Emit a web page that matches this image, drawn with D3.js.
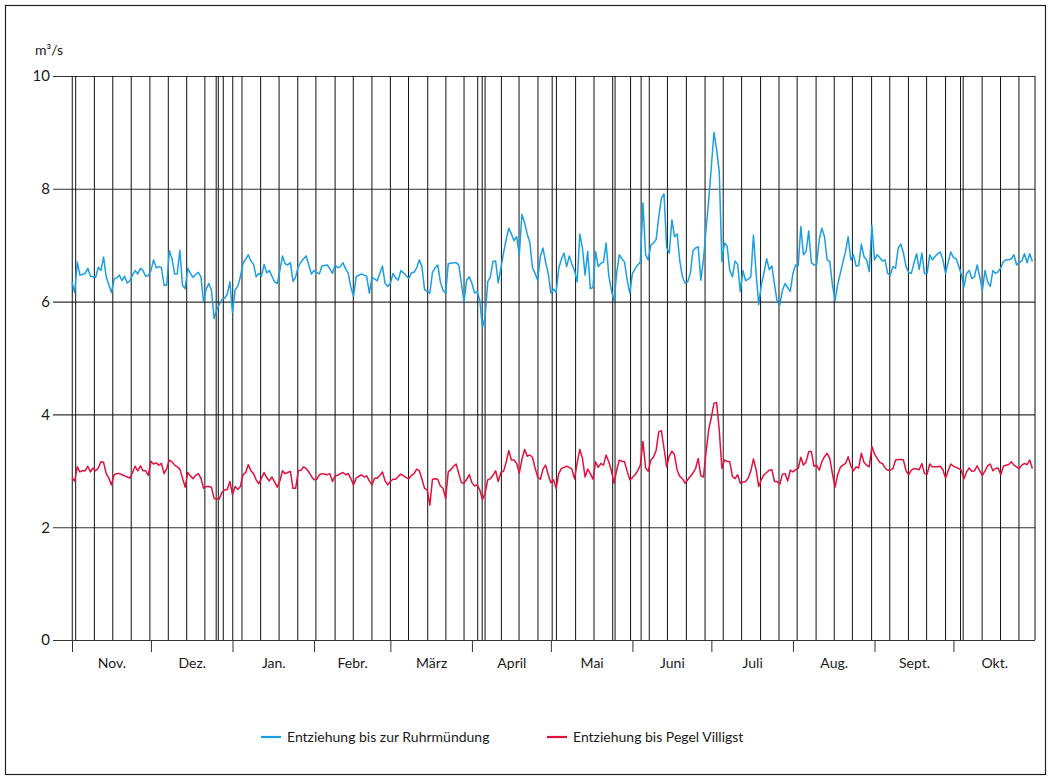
<!DOCTYPE html>
<html>
<head>
<meta charset="utf-8">
<script src="https://cdn.jsdelivr.net/npm/d3@7"></script>
<style>
  body { margin: 0; background: #fff; }
  svg text { font-family: Lato, "Open Sans", sans-serif; font-size: 14px; fill: #1a1a1a; }
</style>
</head>
<body>
<svg></svg>
<script>
let months = ['Nov.','Dez.','Jan.','Febr.','März','April','Mai','Juni','Juli','Aug.','Sept.','Okt.']
let monthDays = [30,31,31,29,31,30,31,30,31,31,30,31]
let yTicks = [0,2,4,6,8,10]
let unit = 'm³/s'

// Sonn- und Feiertage (Tag ab 1. Nov.)
let markedDays = [0.1,1.4,8.5,15.5,22.5,29.6,36.6,43.6,50.5,54.8,55.6,57.5,61.1,64.6,71.7,78.7,85.8,92.7,
  100.0,106.9,114.0,121.0,127.9,135.2,142.1,149.0,154.2,155.9,157.0,163.2,169.9,177.1,182.5,184.1,191.4,
  198.4,205.5,206.4,212.3,216.3,219.4,226.3,233.5,240.6,247.5,254.5,261.7,268.7,275.6,282.8,289.7,296.6,
  303.9,310.8,317.9,324.8,332.0,337.7,338.7,345.9,352.9,359.9,366.0]

let seriesNames = ['Entziehung bis zur Ruhrmündung','Entziehung bis Pegel Villigst']
let seriesColors = ['#1a9fe0','#e2103c']

let ruhrmuendung = [
  6.35,6.16,6.70,6.47,6.48,6.50,6.59,6.45,6.44,6.43,6.61,6.55,6.79,6.44,6.30,6.16,6.40,6.42,6.47,6.37,6.45,6.33,6.37,6.47,6.55,6.49,6.59,6.55,6.45,6.46,
  6.55,6.74,6.60,6.62,6.60,6.29,6.29,6.90,6.76,6.49,6.49,6.91,6.29,6.23,6.59,6.50,6.43,6.48,6.52,6.44,6.00,6.22,6.32,6.20,5.70,5.85,5.95,6.04,6.06,6.13,6.35,
  5.80,6.21,6.27,6.44,6.68,6.75,6.83,6.72,6.66,6.44,6.50,6.45,6.66,6.51,6.55,6.45,6.35,6.32,6.55,6.81,6.67,6.65,6.69,6.36,6.44,6.62,6.70,6.76,6.81,6.65,6.49,
  6.55,6.52,6.49,6.63,6.64,6.65,6.58,6.50,6.65,6.60,6.62,6.69,6.58,6.50,6.25,6.10,6.44,6.47,6.49,6.47,6.45,6.15,6.43,6.40,6.37,6.50,6.63,6.32,6.27,
  6.32,6.50,6.42,6.38,6.55,6.51,6.46,6.41,6.51,6.52,6.60,6.74,6.62,6.21,6.18,6.15,6.52,6.60,6.65,6.35,6.20,6.15,6.67,6.68,6.69,6.69,6.65,6.32,6.00,6.38,6.44,
  6.32,6.15,6.18,6.02,5.54,5.73,6.35,6.44,6.71,6.72,6.33,6.59,6.86,7.10,7.30,7.20,7.08,7.15,6.83,7.55,7.40,7.20,7.05,6.60,6.50,6.38,6.80,6.95,6.70,6.50,
  6.15,6.22,6.16,6.59,6.75,6.86,6.62,6.81,6.66,6.55,6.35,7.20,6.95,6.47,6.89,6.23,6.25,6.89,6.62,6.68,6.70,7.04,6.47,6.20,6.00,6.50,6.83,6.76,6.70,6.38,6.15,
  6.50,6.58,6.65,6.70,7.75,6.83,6.74,7.00,7.04,7.10,7.50,7.83,7.91,6.96,6.86,7.45,7.15,7.20,6.72,6.44,6.33,6.35,6.50,6.90,6.95,6.97,6.38,6.75,7.30,7.80,
  8.40,9.00,8.70,8.30,6.71,7.04,6.98,6.55,6.44,6.72,6.66,6.18,6.55,6.37,6.40,6.44,7.18,6.50,5.95,6.30,6.51,6.76,6.57,6.63,6.30,6.00,5.94,6.20,6.32,6.25,6.18,
  6.50,6.65,6.63,7.33,6.83,6.89,7.25,6.69,6.65,6.65,7.10,7.30,7.15,6.74,6.71,6.30,6.02,6.30,6.50,6.70,6.89,7.15,6.74,6.83,6.63,6.64,7.02,6.80,6.74,6.53,7.35,
  6.74,6.83,6.78,6.72,6.74,6.50,6.47,6.62,6.59,6.95,7.02,6.86,6.62,6.52,6.50,6.68,6.85,6.57,6.86,6.50,6.50,6.83,6.74,6.80,6.85,6.88,6.74,6.50,6.70,6.88,
  6.78,6.76,6.63,6.48,6.26,6.50,6.55,6.41,6.44,6.65,6.44,6.20,6.55,6.35,6.27,6.55,6.50,6.53,6.60,6.71,6.74,6.74,6.76,6.83,6.65,6.69,6.72,6.85,6.69,6.85,6.71
]

let villigst = [
  2.87,2.82,3.07,2.98,3.00,3.00,3.08,2.98,3.05,3.00,3.05,3.16,3.15,2.95,2.87,2.75,2.93,2.95,2.95,2.93,2.91,2.89,2.87,2.97,3.08,3.00,3.09,3.00,3.00,2.92,
  3.17,3.12,3.14,3.10,3.13,2.95,3.04,3.19,3.16,3.10,3.07,3.03,2.87,2.71,2.97,2.91,2.86,2.92,2.95,2.87,2.69,2.72,2.72,2.71,2.51,2.50,2.50,2.62,2.66,2.67,2.81,
  2.58,2.72,2.67,2.72,2.93,2.97,3.11,3.00,2.95,2.84,2.77,2.87,2.97,2.88,2.82,2.89,2.80,2.71,2.82,3.00,2.95,2.97,2.99,2.69,2.69,3.00,3.01,3.07,3.04,2.98,2.90,
  2.84,2.85,2.93,2.95,2.94,2.93,2.95,2.81,2.91,2.92,2.95,2.97,2.93,2.95,2.86,2.75,2.87,2.90,2.93,2.89,2.91,2.82,2.75,2.87,2.87,2.92,2.98,2.82,2.75,
  2.81,2.85,2.85,2.90,2.94,2.91,2.88,2.86,2.92,2.95,3.03,3.00,2.85,2.69,2.66,2.39,2.85,2.86,2.85,2.73,2.69,2.51,2.98,3.02,3.08,3.12,2.95,2.79,2.78,2.85,2.93,
  2.79,2.73,2.75,2.66,2.49,2.60,2.84,2.86,2.92,3.00,2.81,2.97,2.99,3.15,3.36,3.19,3.19,3.13,2.96,3.20,3.38,3.26,3.28,3.24,3.05,2.89,2.85,3.03,3.10,2.93,
  2.79,2.84,2.69,2.95,3.04,3.06,3.08,3.06,3.03,2.86,3.14,3.38,3.22,2.89,3.03,2.95,2.85,3.16,3.06,3.13,3.10,3.28,3.16,3.00,2.78,3.01,3.19,3.17,3.16,2.99,2.84,
  2.88,2.93,3.00,3.10,3.52,3.05,2.99,3.19,3.24,3.36,3.69,3.71,3.40,3.07,3.26,3.35,3.28,3.01,2.90,2.86,2.78,2.84,2.90,2.96,3.04,3.22,2.91,2.89,3.34,3.73,
  3.95,4.20,4.21,3.72,3.04,3.19,3.17,3.16,2.90,2.86,2.93,2.78,2.80,2.81,2.87,3.00,3.21,3.02,2.72,2.85,2.93,2.97,3.01,3.02,2.81,2.81,2.76,2.94,2.95,2.82,3.01,
  2.98,3.02,3.04,3.24,3.10,3.16,3.34,3.34,3.08,3.10,3.01,3.16,3.25,3.31,3.22,2.95,2.71,2.93,3.06,3.10,3.13,3.25,3.09,3.00,3.07,3.05,3.31,3.15,3.10,3.07,3.43,
  3.30,3.22,3.15,3.13,3.05,3.01,3.01,3.04,3.19,3.20,3.20,3.19,3.00,2.93,3.01,3.04,3.03,3.02,3.13,2.95,2.94,3.12,3.07,3.07,3.07,3.08,3.02,2.87,3.00,3.12,
  3.08,3.06,3.04,3.01,2.86,2.98,3.05,2.99,3.00,3.09,3.00,2.92,3.00,3.09,3.12,3.00,3.04,3.05,2.93,3.08,3.10,3.11,3.16,3.10,3.07,3.04,3.10,3.13,3.11,3.19,3.04
]

let width = 1051
let height = 780
let plotLeft = 72
let plotRight = 1035
let plotTop = 76
let plotBottom = 640

let svg = d3.select('svg').attr('width', width).attr('height', height)

let totalDays = d3.sum(monthDays)
let monthStarts = [0].concat(Array.from(d3.cumsum(monthDays)))
let monthMids = months.map((m, i) => (monthStarts[i] + monthStarts[i + 1]) / 2)

let xScale = d3.scaleLinear().domain([0, totalDays]).range([plotLeft, plotRight])
let yScale = d3.scaleLinear().domain([0, 10]).range([plotBottom, plotTop])

// frame
svg.append('rect')
   .attr('x', 5.5).attr('y', 5.5)
   .attr('width', width - 11).attr('height', height - 11)
   .attr('fill', 'none').attr('stroke', '#222').attr('stroke-width', 1.2)

svg.append('text')
   .attr('x', 35).attr('y', 55)
   .text(unit)

// y gridlines + labels
let yAxis = svg.append('g')
   .attr('transform', 'translate(53,0)')
   .call(d3.axisLeft(yScale).tickValues(yTicks).tickSize(-(plotRight - 53)).tickPadding(3).tickFormat(d3.format('d')))
yAxis.select('.domain').remove()
yAxis.selectAll('line').attr('stroke', '#333').attr('stroke-width', 1.1)
yAxis.selectAll('text').style('font-size', '15px')

// vertical day lines
svg.append('g')
   .selectAll('line')
   .data(markedDays)
   .enter()
   .append('line')
   .attr('x1', d => xScale(d)).attr('x2', d => xScale(d))
   .attr('y1', yScale(0)).attr('y2', yScale(10))
   .attr('stroke', '#111').attr('stroke-width', 1)

// month ticks
let xTicks = svg.append('g')
   .attr('transform', 'translate(0,' + plotBottom + ')')
   .call(d3.axisBottom(xScale).tickValues(monthStarts.slice(0, 12)).tickSize(12).tickFormat(''))
xTicks.select('.domain').remove()
xTicks.selectAll('line').attr('stroke', '#333')

let xLabels = svg.append('g')
   .attr('transform', 'translate(0,' + plotBottom + ')')
   .call(d3.axisBottom(xScale).tickValues(monthMids).tickSize(0).tickPadding(18).tickFormat((d, i) => months[i]))
xLabels.select('.domain').remove()
xLabels.selectAll('text').style('font-size', '14px')

// series
let line = d3.line()
   .x((d, i) => xScale(i))
   .y(d => yScale(d))

let series = [ruhrmuendung, villigst]
svg.append('g')
   .selectAll('path')
   .data(series)
   .enter()
   .append('path')
   .attr('d', d => line(d))
   .attr('fill', 'none')
   .attr('stroke', (d, i) => seriesColors[i])
   .attr('stroke-width', 1.5)
   .attr('stroke-linejoin', 'round')

// legend
let legendX = [261, 547]
let legend = svg.append('g')
   .selectAll('g')
   .data(seriesNames)
   .enter()
   .append('g')
   .attr('transform', (d, i) => 'translate(' + legendX[i] + ',737)')
legend.append('line')
   .attr('x1', 0).attr('x2', 20)
   .attr('stroke', (d, i) => seriesColors[i])
   .attr('stroke-width', 2.2)
legend.append('text')
   .attr('x', 26).attr('y', 5)
   .text(d => d)
</script>
</body>
</html>
